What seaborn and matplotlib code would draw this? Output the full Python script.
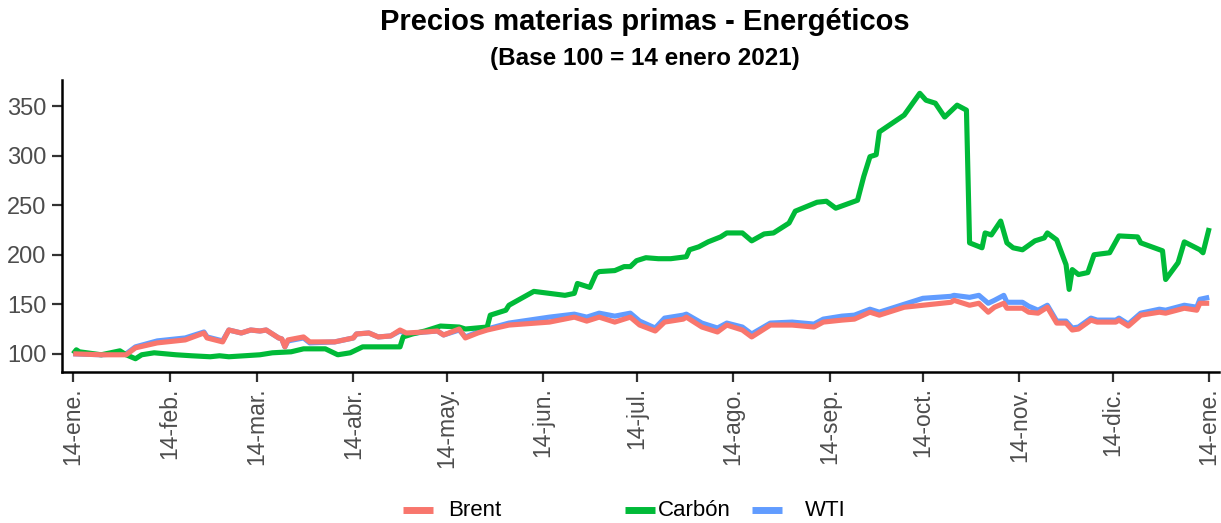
import matplotlib
matplotlib.use("Agg")
import matplotlib.pyplot as plt
from matplotlib.lines import Line2D
import pandas as pd
import seaborn as sns

# Trading dates shared by the two crude oil series (Brent and WTI)
oil_dates = [
    "2021-01-14", "2021-01-23", "2021-01-29", "2021-01-31", "2021-02-03", "2021-02-10",
    "2021-02-19", "2021-02-25", "2021-02-26", "2021-03-03", "2021-03-05", "2021-03-09",
    "2021-03-12", "2021-03-15", "2021-03-17", "2021-03-21", "2021-03-22", "2021-03-23",
    "2021-03-24", "2021-03-29", "2021-03-31", "2021-04-08", "2021-04-14", "2021-04-15",
    "2021-04-19", "2021-04-22", "2021-04-26", "2021-04-29", "2021-05-01", "2021-05-07",
    "2021-05-11", "2021-05-13", "2021-05-18", "2021-05-20", "2021-05-24", "2021-05-27",
    "2021-06-03", "2021-06-16", "2021-06-24", "2021-06-28", "2021-07-02", "2021-07-07",
    "2021-07-12", "2021-07-15", "2021-07-20", "2021-07-23", "2021-07-29", "2021-07-30",
    "2021-08-04", "2021-08-09", "2021-08-12", "2021-08-17", "2021-08-20", "2021-08-26",
    "2021-09-02", "2021-09-09", "2021-09-12", "2021-09-18", "2021-09-22", "2021-09-27",
    "2021-09-30", "2021-10-08", "2021-10-14", "2021-10-23", "2021-10-24", "2021-10-29",
    "2021-11-01", "2021-11-04", "2021-11-06", "2021-11-09", "2021-11-10", "2021-11-15",
    "2021-11-17", "2021-11-20", "2021-11-23", "2021-11-26", "2021-11-29", "2021-12-01",
    "2021-12-03", "2021-12-07", "2021-12-09", "2021-12-15", "2021-12-16", "2021-12-19",
    "2021-12-23", "2021-12-29", "2021-12-31", "2022-01-06", "2022-01-10", "2022-01-11",
    "2022-01-14",
]

brent = [
    100, 99, 99, 99, 106, 111,
    114, 121, 116, 112, 124, 121,
    124, 123, 124, 116, 115, 107,
    114, 117, 112, 112, 116, 120,
    121, 117, 118, 124, 121, 122,
    123, 119, 125, 116, 121, 124,
    129, 132, 137, 133, 137, 132,
    137, 129, 123, 132, 135, 137,
    127, 122, 129, 124, 117, 129,
    129, 127, 132, 134, 135, 142,
    139, 147, 149, 152, 154, 149,
    151, 142, 147, 151, 146, 146,
    142, 141, 147, 131, 131, 124,
    125, 134, 132, 132, 134, 128,
    139, 142, 141, 146, 144, 151,
    151,
]

wti = [
    100, 99, 100, 100, 107, 113,
    116, 122, 117, 113, 124, 121,
    124, 123, 124, 116, 115, 107,
    113, 116, 111, 112, 116, 120,
    121, 117, 118, 123, 120, 122,
    123, 119, 124, 117, 122, 125,
    131, 137, 140, 137, 141, 138,
    141, 133, 126, 136, 139, 140,
    131, 126, 131, 127, 120, 131,
    132, 130, 135, 138, 139, 145,
    142, 150, 156, 158, 159, 157,
    159, 151, 154, 159, 152, 152,
    148, 144, 149, 133, 133, 126,
    127, 136, 134, 134, 136, 130,
    141, 145, 144, 149, 147, 155,
    157,
]

carbon_dates = [
    "2021-01-14", "2021-01-15", "2021-01-16", "2021-01-23", "2021-01-29", "2021-01-31",
    "2021-02-03", "2021-02-05", "2021-02-09", "2021-02-16", "2021-02-21", "2021-02-27",
    "2021-03-02", "2021-03-05", "2021-03-15", "2021-03-19", "2021-03-25", "2021-03-29",
    "2021-04-05", "2021-04-09", "2021-04-13", "2021-04-15", "2021-04-17", "2021-04-29",
    "2021-04-30", "2021-05-03", "2021-05-07", "2021-05-12", "2021-05-18", "2021-05-20",
    "2021-05-27", "2021-05-28", "2021-06-02", "2021-06-03", "2021-06-07", "2021-06-11",
    "2021-06-16", "2021-06-21", "2021-06-24", "2021-06-25", "2021-06-29", "2021-07-01",
    "2021-07-02", "2021-07-07", "2021-07-10", "2021-07-12", "2021-07-14", "2021-07-17",
    "2021-07-21", "2021-07-25", "2021-07-30", "2021-07-31", "2021-08-03", "2021-08-06",
    "2021-08-10", "2021-08-12", "2021-08-17", "2021-08-20", "2021-08-24", "2021-08-27",
    "2021-09-01", "2021-09-03", "2021-09-10", "2021-09-13", "2021-09-16", "2021-09-23",
    "2021-09-25", "2021-09-27", "2021-09-29", "2021-09-30", "2021-10-08", "2021-10-13",
    "2021-10-15", "2021-10-18", "2021-10-21", "2021-10-25", "2021-10-28", "2021-10-29",
    "2021-11-02", "2021-11-03", "2021-11-05", "2021-11-08", "2021-11-10", "2021-11-12",
    "2021-11-15", "2021-11-19", "2021-11-22", "2021-11-23", "2021-11-26", "2021-11-29",
    "2021-11-30", "2021-12-01", "2021-12-03", "2021-12-06", "2021-12-08", "2021-12-13",
    "2021-12-16", "2021-12-22", "2021-12-23", "2021-12-30", "2021-12-31", "2022-01-04",
    "2022-01-06", "2022-01-11", "2022-01-12", "2022-01-14",
]

carbon = [
    100, 104, 102, 99, 103, 99,
    95, 99, 101, 99, 98, 97,
    98, 97, 99, 101, 102, 105,
    105, 99, 101, 104, 107, 107,
    117, 120, 123, 128, 127, 125,
    127, 139, 144, 149, 156, 163,
    161, 159, 161, 171, 167, 181,
    183, 184, 188, 188, 194, 197,
    196, 196, 198, 205, 208, 213,
    218, 222, 222, 214, 221, 222,
    232, 244, 253, 254, 247, 255,
    279, 299, 301, 324, 341, 363,
    356, 353, 339, 351, 346, 212,
    207, 222, 220, 234, 212, 207,
    205, 214, 217, 222, 215, 190,
    165, 185, 180, 182, 200, 202,
    219, 218, 212, 204, 175, 192,
    213, 205, 202, 227,
]

series_names = ["Brent", "Carbón", "WTI"]
series_colors = {"Brent": "#F8766D", "Carbón": "#00BA38", "WTI": "#619CFF"}

tick_dates = [
    "2021-01-14", "2021-02-14", "2021-03-14", "2021-04-14", "2021-05-14", "2021-06-14",
    "2021-07-14", "2021-08-14", "2021-09-14", "2021-10-14", "2021-11-14", "2021-12-14",
    "2022-01-14",
]
tick_labels = [
    "14-ene.", "14-feb.", "14-mar.", "14-abr.", "14-may.", "14-jun.",
    "14-jul.", "14-ago.", "14-sep.", "14-oct.", "14-nov.", "14-dic.", "14-ene.",
]
y_ticks = [100, 150, 200, 250, 300, 350]

title = "Precios materias primas - Energéticos"
subtitle = "(Base 100 = 14 enero 2021)"

# Long-form table for seaborn
frames = [
    pd.DataFrame({"fecha": pd.to_datetime(oil_dates), "valor": brent, "serie": "Brent"}),
    pd.DataFrame({"fecha": pd.to_datetime(carbon_dates), "valor": carbon, "serie": "Carbón"}),
    pd.DataFrame({"fecha": pd.to_datetime(oil_dates), "valor": wti, "serie": "WTI"}),
]
df = pd.concat(frames, ignore_index=True)

sns.set_theme(style="white")
plt.rcParams["font.family"] = ["Liberation Sans", "DejaVu Sans"]

fig = plt.figure(figsize=(12.21, 5.23), dpi=100)
ax = fig.add_axes([0.0508, 0.2887, 0.9477, 0.5583])

# WTI underneath, Brent on top
for name in ["WTI", "Carbón", "Brent"]:
    sub = df[df["serie"] == name]
    sns.lineplot(data=sub, x="fecha", y="valor", ax=ax, color=series_colors[name],
                 linewidth=3.7, estimator=None, sort=True, legend=False,
                 solid_joinstyle="round", solid_capstyle="butt")

start = pd.Timestamp(tick_dates[0])
end = pd.Timestamp(tick_dates[-1])
ax.set_xlim(start - pd.Timedelta(days=3.6), end + pd.Timedelta(days=3.2))
ax.set_ylim(81.6, 376.4)

ax.set_xticks(pd.to_datetime(tick_dates))
ax.set_xticklabels(tick_labels, rotation=90, fontsize=16.5, color="#4D4D4D")
ax.set_yticks(y_ticks)
ax.set_yticklabels([str(v) for v in y_ticks], fontsize=17, color="#4D4D4D")
ax.tick_params(axis="both", direction="out", length=7, width=1.6, color="#333333",
               bottom=True, left=True, pad=4)
ax.set_xlabel("")
ax.set_ylabel("")

sns.despine(ax=ax, top=True, right=True)
for side in ["left", "bottom"]:
    ax.spines[side].set_color("black")
    ax.spines[side].set_linewidth(1.8)

fig.text(0.528, 0.957, title, ha="center", va="center", fontsize=21,
         fontweight="bold", color="black")
fig.text(0.528, 0.888, subtitle, ha="center", va="center", fontsize=17.5,
         fontweight="bold", color="black")

# Legend row along the bottom: key segment followed by its label
legend_y = 0.024
legend_items = [
    ("Brent", 403, 448),
    ("Carbón", 625, 658),
    ("WTI", 752, 805),
]
fig_w = 1221.0
for name, key_x, text_x in legend_items:
    fig.add_artist(Line2D([key_x / fig_w, (key_x + 30) / fig_w], [legend_y, legend_y],
                          transform=fig.transFigure, color=series_colors[name],
                          linewidth=5, solid_capstyle="butt"))
    fig.text(text_x / fig_w, legend_y, name, ha="left", va="center", fontsize=16,
             color="black")

fig.savefig("out.png", dpi=100, facecolor="white")
